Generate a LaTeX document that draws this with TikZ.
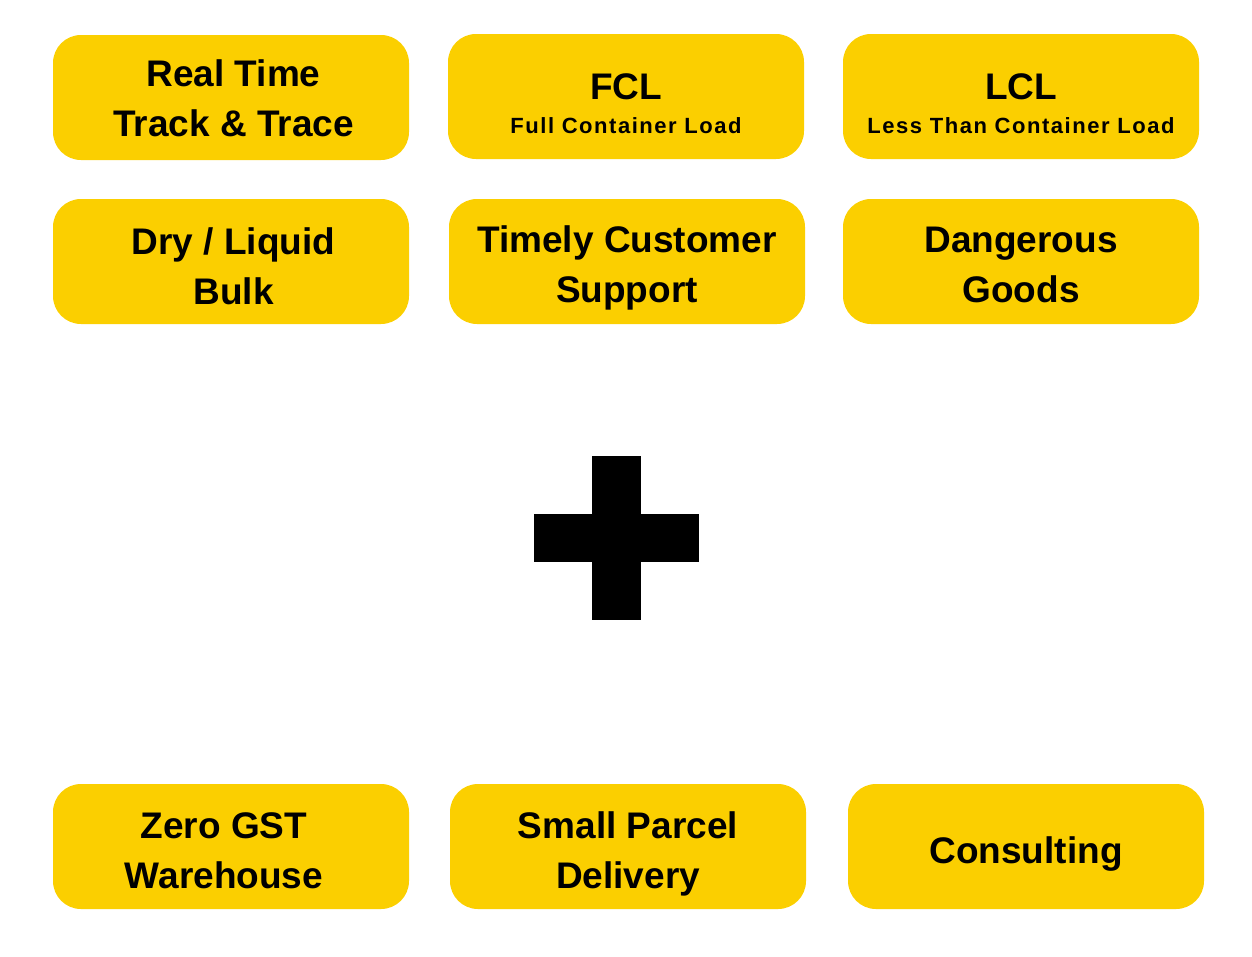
\documentclass[tikz,border=0pt]{standalone}
\usepackage{fontspec}
\setmainfont{Liberation Sans}
\definecolor{servyellow}{HTML}{FBCF00}
\newcommand{\subline}[1]{{\fontsize{22}{26}\selectfont\addfontfeature{LetterSpace=7}#1}}
\begin{document}
\begin{tikzpicture}[x=1pt,y=-1pt,
    service/.style={rectangle,rounded corners=28pt,fill=servyellow,
      minimum width=356pt,minimum height=125pt,inner sep=0pt,align=center,
      text depth=0pt,text height=#1,font=\bfseries\fontsize{37}{50}\selectfont},
    service/.default=83pt]
  \useasboundingbox (0,0) rectangle (1252,956);
  % top rows
  \node[service=77pt] (track) at (231,97.5) {\hspace*{5pt}Real Time\\\hspace*{5pt}Track \& Trace};
  \node[service=74pt] (fcl) at (626,96.5) {FCL\\[-16pt]\subline{Full Container Load}};
  \node[service=74pt] (lcl) at (1021,96.5) {LCL\\[-16pt]\subline{Less Than Container Load}};
  \node[service=86pt] (bulk) at (231,261.5) {\hspace*{5pt}Dry / Liquid\\\hspace*{5pt}Bulk};
  \node[service=81pt] (support) at (627,261.5) {Timely Customer\\Support};
  \node[service=81pt] (danger) at (1021,261.5) {Dangerous\\Goods};
  % plus
  \fill (592,456) rectangle (641,620);
  \fill (534,514) rectangle (699,562);
  % bottom row
  \node[service] (warehouse) at (231,846.5) {\hspace*{-14pt}Zero GST\\\hspace*{-14pt}Warehouse};
  \node[service] (parcel) at (628,846.5) {Small Parcel\\Delivery};
  \node[service=33pt] (consult) at (1026,846.5) {Consulting};
\end{tikzpicture}
\end{document}
